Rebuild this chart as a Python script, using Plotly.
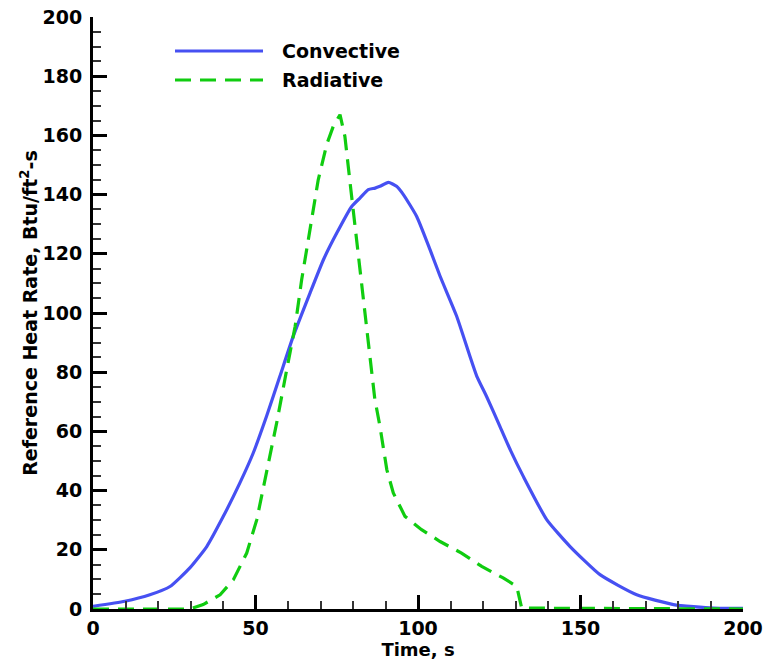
import plotly.graph_objects as go

# Convective heat rate (blue, solid)
conv_t = [0, 9.8, 17.5, 23.7, 29.8, 35, 40.1, 45.2, 49.3, 53.4, 57.5, 61.6, 66.8, 70.9, 75,
          79.6, 82.2, 84.7, 86.8, 88.3, 90.9, 93.4, 95.5, 99.6, 103.7, 106.8, 111.9, 116,
          118.1, 121.1, 125.2, 128.5, 132.4, 139.6, 146.8, 156, 167.3, 178.6, 190.9, 200]
conv_q = [0.9, 2.6, 4.8, 7.6, 13.9, 21.1, 31.3, 42.6, 52.7, 65.1, 78.6, 92.1, 106.8, 118, 127,
          136, 138.9, 141.7, 142.2, 142.8, 144.1, 142.8, 140, 132.6, 121.4, 112.4, 98.9, 85.3,
          78.6, 71.8, 61.7, 53.5, 44.8, 30.2, 21.1, 11.6, 4.8, 1.5, 0.3, 0.2]

# Radiative heat rate (green, dashed)
rad_t = [0, 29.8, 33.9, 39.1, 43.2, 47.3, 50.4, 53.4, 56.5, 59.6, 62.2, 64.2, 66.8, 69.3,
         71.9, 73.9, 76, 77.5, 79.1, 81.1, 83.2, 85, 86.7, 88.3, 90.4, 92.4, 96, 101.1,
         106.8, 113.4, 119.6, 126.2, 130.4, 131.9, 200]
rad_q = [0, 0, 1.5, 4.8, 9.9, 18.9, 30.2, 45.9, 62.8, 80.8, 95.5, 111.2, 129.3, 145,
         156.9, 163, 167, 159.7, 144, 124.8, 104.5, 85.3, 71, 61.7, 47.1, 39.2, 31.3, 26.8,
         22.8, 18.9, 14.4, 10.5, 7.6, 0.3, 0]

x_ticks = [0, 50, 100, 150, 200]
y_ticks = [0, 20, 40, 60, 80, 100, 120, 140, 160, 180, 200]

BLUE = "#4650F2"
GREEN = "#10CC10"
DASH = "16px,9px"
FONT = "DejaVu Sans"

fig = go.Figure()
fig.add_trace(go.Scatter(x=conv_t, y=conv_q, mode="lines", name="Convective",
                         line=dict(color=BLUE, width=3.2, shape="spline", smoothing=0.5),
                         showlegend=False))
fig.add_trace(go.Scatter(x=rad_t, y=rad_q, mode="lines", name="Radiative",
                         line=dict(color=GREEN, width=3.2, dash=DASH), showlegend=False))

# Legend drawn as paper-referenced samples
W, H = 764, 668
ml, mr, mt, mb = 93, 21, 17, 59
pw, ph = W - ml - mr, H - mt - mb
def px(x):
    return (x - ml) / pw
def py(y):
    return (H - mb - y) / ph

legend_items = [("Convective", BLUE, "solid", 51), ("Radiative", GREEN, DASH, 80)]
for label, color, dash, ypix in legend_items:
    fig.add_shape(type="line", xref="paper", yref="paper",
                  x0=px(175), x1=px(263), y0=py(ypix), y1=py(ypix),
                  line=dict(color=color, width=3.2, dash=dash))
    fig.add_annotation(xref="paper", yref="paper", x=px(280), y=py(ypix),
                       text=label, showarrow=False, xanchor="left", yanchor="middle",
                       font=dict(family=FONT, size=19, color="black", weight="bold"))

fig.update_layout(
    width=W, height=H,
    margin=dict(l=ml, r=mr, t=mt, b=mb, pad=0),
    plot_bgcolor="white", paper_bgcolor="white",
    font=dict(family=FONT, size=19, color="black", weight="bold"),
)
fig.update_xaxes(
    range=[0, 200], tickvals=x_ticks, ticktext=[str(v) for v in x_ticks],
    ticks="inside", ticklen=14, tickwidth=3, tickcolor="black",
    minor=dict(ticks="inside", dtick=10, ticklen=8, tickwidth=1.5, tickcolor="#333"),
    showline=True, linecolor="black", linewidth=3, showgrid=False, zeroline=False,
    automargin=False,
    tickfont=dict(family=FONT, size=19, color="black", weight="bold"),
    title=dict(text="Time, s", font=dict(family=FONT, size=18, weight="bold"), standoff=0),
)
fig.update_yaxes(
    range=[0, 200], tickvals=y_ticks, ticktext=[str(v) for v in y_ticks],
    ticks="inside", ticklen=14, tickwidth=3, tickcolor="black",
    minor=dict(ticks="inside", dtick=5, ticklen=8, tickwidth=1.5, tickcolor="#333"),
    showline=True, linecolor="black", linewidth=3, showgrid=False, zeroline=False,
    automargin=False, ticklabelstandoff=4,
    tickfont=dict(family=FONT, size=19, color="black", weight="bold"),
    title=dict(text="Reference Heat Rate, Btu/ft<sup>2</sup>-s",
               font=dict(family=FONT, size=19, weight="bold"), standoff=0),
)

fig.write_html("out.html", config={"displayModeBar": False},
               post_script="document.body.style.margin='0';")
